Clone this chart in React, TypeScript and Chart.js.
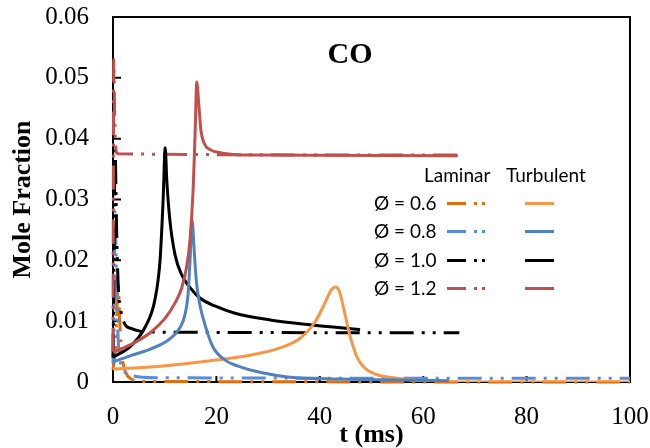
import React, { useEffect, useRef } from "react";
import { Chart, registerables } from "chart.js";

Chart.register(...registerables);

// ---- axis ticks ----
const X_TICKS = [0, 20, 40, 60, 80, 100];
const Y_TICK_LABELS = ["0", "0.01", "0.02", "0.03", "0.04", "0.05", "0.06"];

// ---- turbulent (solid) ----
const turbOrangeT = [0, 9.1, 18.8, 26.5, 32.3, 36.2, 39.1, 41, 42.2, 43.1, 43.9, 44.7, 45.8, 47.2, 48.7, 50.7, 54.2, 59.4, 65, 100];
const turbOrangeV = [0.0021, 0.0026, 0.0035, 0.0044, 0.0056, 0.0072, 0.0099, 0.013, 0.0151, 0.0156, 0.0146, 0.0118, 0.0077, 0.0041, 0.0023, 0.0013, 0.0007, 0.0002, 0.0, 0.0];

const turbBlueT = [0, 3.3, 7.2, 11, 13, 13.9, 14.5, 14.9, 15.3, 15.7, 16.1, 16.8, 17.8, 19.3, 21.7, 24.6, 28.4, 34.2, 44, 59, 65];
const turbBlueV = [0.0033, 0.0043, 0.0054, 0.0071, 0.009, 0.011, 0.0143, 0.02, 0.0266, 0.0217, 0.0168, 0.0127, 0.0094, 0.0058, 0.0036, 0.0025, 0.0016, 0.0008, 0.0005, 0.0003, 0.0002];

const turbBlackT = [0, 3.3, 6.2, 8.1, 9.1, 9.7, 10.1, 10.4, 11, 12, 13.3, 14.9, 16.8, 19.7, 23.6, 30.4, 38.1, 47.8];
const turbBlackV = [0.0041, 0.0058, 0.009, 0.0135, 0.02, 0.03, 0.0385, 0.0332, 0.0266, 0.0209, 0.0176, 0.0155, 0.0138, 0.0125, 0.0113, 0.0102, 0.0094, 0.0086];

const turbRedT = [0, 3.3, 7.2, 10.1, 12, 13.3, 14.3, 14.9, 15.5, 15.9, 16.2, 16.6, 17, 17.6, 18.8, 20.7, 26.5, 66.7];
const turbRedV = [0.0049, 0.0061, 0.0081, 0.0105, 0.013, 0.0155, 0.0192, 0.0234, 0.0316, 0.0414, 0.0493, 0.0456, 0.0414, 0.0393, 0.0382, 0.0377, 0.0373, 0.0372];

// ---- laminar (dash-dot-dot) ----
const lamOrangeT = [0, 0.5, 1.0, 1.3, 1.8, 2.5, 3.5, 6, 100];
const lamOrangeV = [0.002, 0.006, 0.016, 0.01, 0.004, 0.0015, 0.0005, 0.0001, 0];

const lamBlueT = [0, 0.2, 0.4, 0.7, 1.0, 1.5, 2.5, 4, 8, 100];
const lamBlueV = [0.003, 0.01, 0.028, 0.015, 0.007, 0.003, 0.0015, 0.001, 0.0007, 0.0006];

const lamBlackT = [0, 0.2, 0.4, 0.7, 1.0, 1.5, 2.3, 3.5, 5, 8, 67];
const lamBlackV = [0.004, 0.02, 0.038, 0.025, 0.016, 0.0118, 0.0095, 0.0088, 0.0084, 0.0082, 0.0081];

const lamRedT = [0, 0.15, 0.3, 0.5, 0.8, 1.2, 67];
const lamRedV = [0.005, 0.053, 0.045, 0.039, 0.0376, 0.0375, 0.0373];

const PHI_LABELS = ["Ø = 0.6", "Ø = 0.8", "Ø = 1.0", "Ø = 1.2"];
const LAM_COLORS = ["#E46C0A", "#558ED5", "#000000", "#C0504D"];
const TURB_COLORS = ["#F79646", "#4F81BD", "#000000", "#C0504D"];

const pts = (t: number[], v: number[]) => t.map((x, i) => ({ x, y: v[i] }));

const LAM_DASH = [24, 8, 3, 8, 3, 8];

const framePlugin = {
  id: "frame",
  beforeDatasetsDraw(chart: any) {
    const { ctx, chartArea: a, scales } = chart;
    ctx.save();
    ctx.strokeStyle = "#000";
    ctx.lineWidth = 2;
    ctx.strokeRect(a.left, a.top, a.right - a.left, a.bottom - a.top);
    ctx.beginPath();
    scales.x.ticks.forEach((t: any) => {
      const px = scales.x.getPixelForValue(t.value);
      ctx.moveTo(px, a.bottom);
      ctx.lineTo(px, a.bottom - 6);
    });
    scales.y.ticks.forEach((t: any) => {
      const py = scales.y.getPixelForValue(t.value);
      ctx.moveTo(a.left, py);
      ctx.lineTo(a.left + 8, py);
    });
    ctx.stroke();
    ctx.restore();
  },
};

const SERIF = "'Liberation Serif', 'Times New Roman', serif";

export default function App() {
  const ref = useRef<HTMLCanvasElement>(null);

  useEffect(() => {
    document.body.style.margin = "0";
    const lam = (t: number[], v: number[], c: string, order: number) => ({
      data: pts(t, v),
      borderColor: c,
      borderWidth: 3,
      borderDash: LAM_DASH,
      pointRadius: 0,
      cubicInterpolationMode: "monotone" as const,
      tension: 0.4,
      clip: false as any,
      order,
    });
    const turb = (t: number[], v: number[], c: string, order: number) => ({
      data: pts(t, v),
      borderColor: c,
      borderWidth: 3,
      pointRadius: 0,
      cubicInterpolationMode: "monotone" as const,
      tension: 0.4,
      order,
    });
    const chart = new Chart(ref.current!, {
      type: "line",
      data: {
        datasets: [
          lam(lamOrangeT, lamOrangeV, LAM_COLORS[0], 8),
          lam(lamBlueT, lamBlueV, LAM_COLORS[1], 7),
          lam(lamBlackT, lamBlackV, LAM_COLORS[2], 6),
          lam(lamRedT, lamRedV, LAM_COLORS[3], 5),
          turb(turbBlackT, turbBlackV, TURB_COLORS[2], 4),
          turb(turbOrangeT, turbOrangeV, TURB_COLORS[0], 3),
          turb(turbBlueT, turbBlueV, TURB_COLORS[1], 2),
          turb(turbRedT, turbRedV, TURB_COLORS[3], 1),
        ],
      },
      options: {
        responsive: false,
        animation: false,
        devicePixelRatio: 1,
        layout: { padding: { top: 17, right: 20, left: 0, bottom: 0 } },
        plugins: { legend: { display: false }, tooltip: { enabled: false }, title: { display: false } },
        scales: {
          x: {
            type: "linear",
            min: X_TICKS[0],
            max: X_TICKS[X_TICKS.length - 1],
            afterFit: (s: any) => { s.height = 66; },
            afterBuildTicks: (s: any) => { s.ticks = X_TICKS.map((v) => ({ value: v })); },
            grid: { display: true, drawOnChartArea: false, drawTicks: true, tickLength: 20, tickColor: "rgba(0,0,0,0)" },
            border: { display: false },
            ticks: {
              color: "#000",
              padding: 0,
              maxRotation: 0,
              font: { family: SERIF, size: 25 },
              callback: (v: any) => String(v),
            },
            title: {
              display: true,
              text: "t (ms)",
              color: "#000",
              padding: { top: 0, bottom: 0 },
              font: { family: SERIF, size: 26, weight: "bold", lineHeight: 1 },
            },
          },
          y: {
            type: "linear",
            min: 0,
            max: 0.06,
            afterFit: (s: any) => { s.width = 113; },
            afterBuildTicks: (s: any) => { s.ticks = Y_TICK_LABELS.map((l) => ({ value: parseFloat(l) })); },
            grid: { display: true, drawOnChartArea: false, drawTicks: true, tickLength: 24, tickColor: "rgba(0,0,0,0)" },
            border: { display: false },
            ticks: {
              color: "#000",
              padding: 0,
              font: { family: SERIF, size: 25 },
              callback: (_v: any, i: number) => Y_TICK_LABELS[i],
            },
            title: {
              display: true,
              text: "Mole Fraction",
              color: "#000",
              padding: { top: 10, bottom: 0 },
              font: { family: SERIF, size: 26, weight: "bold", lineHeight: 1 },
            },
          },
        },
      },
      plugins: [framePlugin],
    } as any);
    return () => chart.destroy();
  }, []);

  const legFont: React.CSSProperties = {
    position: "absolute",
    fontFamily: "Lato, 'Open Sans', sans-serif",
    fontSize: 19,
    lineHeight: "20px",
    color: "#000",
    whiteSpace: "nowrap",
  };
  const rowsY = [203, 231, 260, 288];

  return (
    <div style={{ position: "absolute", left: 0, top: 0, width: 650, height: 448 }}>
      <canvas ref={ref} width={650} height={448} style={{ display: "block" }} />
      <div
        style={{
          position: "absolute",
          left: 310,
          width: 80,
          top: 38,
          textAlign: "center",
          fontFamily: SERIF,
          fontWeight: "bold",
          fontSize: 30,
          lineHeight: "30px",
        }}
      >
        CO
      </div>
      <div style={{ ...legFont, left: 424, top: 175 - 10 }}>Laminar</div>
      <div style={{ ...legFont, left: 506, top: 175 - 10 }}>Turbulent</div>
      {PHI_LABELS.map((lab, i) => (
        <React.Fragment key={lab}>
          <div style={{ ...legFont, left: 374, top: rowsY[i] - 10 }}>{lab}</div>
          <div style={{ position: "absolute", left: 447, top: rowsY[i] - 1, width: 19, height: 3, background: LAM_COLORS[i] }} />
          <div style={{ position: "absolute", left: 474, top: rowsY[i] - 1, width: 3, height: 3, background: LAM_COLORS[i] }} />
          <div style={{ position: "absolute", left: 482, top: rowsY[i] - 1, width: 3, height: 3, background: LAM_COLORS[i] }} />
          <div style={{ position: "absolute", left: 525, top: rowsY[i] - 1, width: 29, height: 3, background: TURB_COLORS[i] }} />
        </React.Fragment>
      ))}
    </div>
  );
}
